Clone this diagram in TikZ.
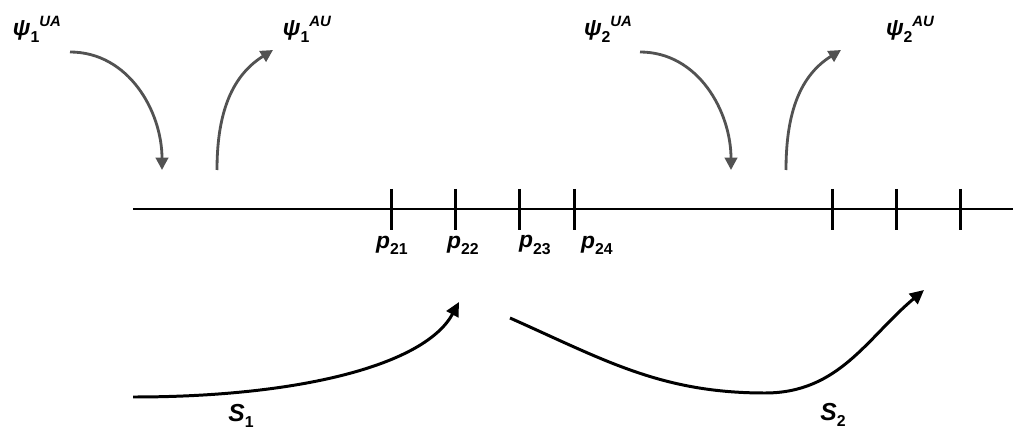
\documentclass[tikz,border=0pt]{standalone}
\usepackage{fontspec}
\setmainfont{Liberation Sans}
\usetikzlibrary{arrows.meta}

% lowered upright index and raised italic mark of a label
\newcommand{\lsub}[1]{\raisebox{-3.5pt}{\fontsize{9}{10}\selectfont\upshape #1}}
\newcommand{\lsup}[1]{\raisebox{5.5pt}{\fontsize{8.5}{10}\selectfont #1}}

\tikzset{
  axis/.style={line width=1.7pt},
  tickmark/.style={line width=1.7pt},
  flow/.style={line width=1.6pt, draw=black!68, -{Triangle[length=7pt,width=7pt]}},
  route/.style={line width=1.7pt, -{Triangle[length=8pt,width=7.5pt]}},
  lbl/.style={font=\fontsize{13}{15}\selectfont\bfseries\itshape, inner sep=0pt},
  slbl/.style={font=\fontsize{14}{16}\selectfont\bfseries\itshape, inner sep=0pt}
}

\begin{document}
\begin{tikzpicture}[x=0.02cm, y=-0.02cm]
\useasboundingbox (0,0) rectangle (1013,432);

% End points of the axis
\coordinate (axisL) at (133,209);
\coordinate (axisR) at (1013,209);
\draw [axis] (axisL)--(axisR);

% Ticks p21 ... p24 with their labels
\foreach \x/\lx/\n in {391/392/21, 455/463/22, 519/535/23, 574/597/24}{
  \draw [tickmark] (\x,189)--(\x,230);
  \node [lbl] (p\n) at (\lx,245) {p\lsub{\n}};
}
% Ticks on the right without labels
\foreach \x in {832,896,960}
  \draw [tickmark] (\x,189)--(\x,230);

% Labels of the flows in and out
\node [lbl] (psi1UA) at (37,29) {ψ\lsub{1}\lsup{UA}};
\node [lbl] (psi1AU) at (307,29) {ψ\lsub{1}\lsup{AU}};
\node [lbl] (psi2UA) at (608,29) {ψ\lsub{2}\lsup{UA}};
\node [lbl] (psi2AU) at (910,29) {ψ\lsub{2}\lsup{AU}};

% Start and end points of the gray arrows
\coordinate (in1s) at (70,52);
\coordinate (in1e) at (162,170);
\coordinate (out1s) at (217,170);
\coordinate (out1e) at (273,50);
\coordinate (in2s) at (640,52);
\coordinate (in2e) at (731,170);
\coordinate (out2s) at (786,170);
\coordinate (out2e) at (841,50);

\draw [flow] (in1s) to[out=0,in=90] (in1e);
\draw [flow] (out1s) to[out=90,in=212] (out1e);
\draw [flow] (in2s) to[out=0,in=90] (in2e);
\draw [flow] (out2s) to[out=90,in=212] (out2e);

% Routes S1 and S2 below the axis
\coordinate (s1s) at (133,397);
\coordinate (s1e) at (459,302);
\coordinate (s2s) at (510,318);
\coordinate (s2m) at (765,393);
\coordinate (s2e) at (924,290);

\draw [route] (s1s) .. controls (300,397) and (425,365) .. (s1e);
\draw [route] (s2s) to[out=-24,in=180] (s2m) to[out=0,in=220] (s2e);

\node [slbl] (S1) at (241,416) {S\lsub{1}};
\node [slbl] (S2) at (833,415) {S\lsub{2}};

\end{tikzpicture}
\end{document}
